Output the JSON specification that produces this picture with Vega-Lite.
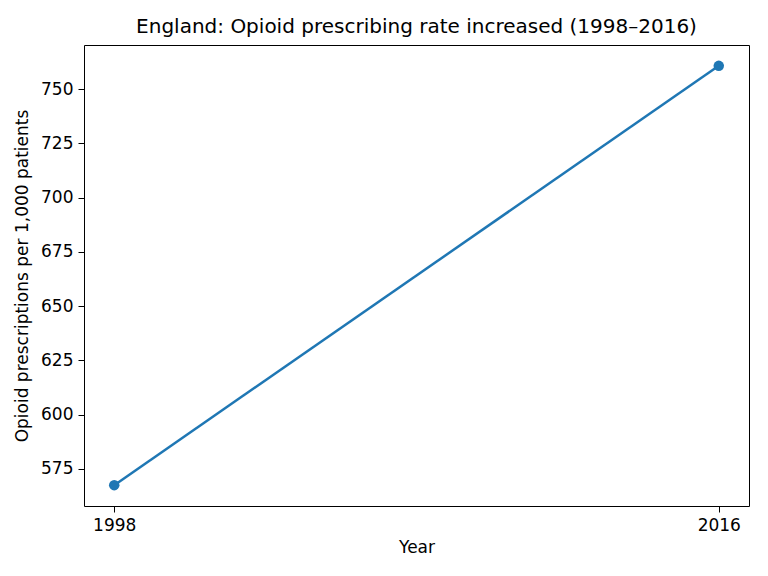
{
  "$schema": "https://vega.github.io/schema/vega-lite/v6.json",
  "width": 665,
  "height": 461,
  "autosize": {"type": "none"},
  "padding": {"left": 84, "top": 45, "right": 19, "bottom": 70},
  "background": "white",
  "config": {
    "font": "DejaVu Sans",
    "view": {"stroke": "black", "strokeWidth": 1},
    "axis": {
      "grid": false,
      "domain": false,
      "tickColor": "black",
      "tickSize": 6,
      "tickWidth": 1,
      "labelFont": "DejaVu Sans",
      "labelFontSize": 17,
      "labelColor": "black",
      "labelPadding": 5,
      "titleFont": "DejaVu Sans",
      "titleFontSize": 17,
      "titleFontWeight": "normal",
      "titleColor": "black"
    },
    "title": {"font": "DejaVu Sans", "fontSize": 20, "fontWeight": "normal", "color": "black"}
  },
  "title": {"text": "England: Opioid prescribing rate increased (1998–2016)", "anchor": "middle", "offset": 8},
  "data": {
    "values": [
      {"year": 1998, "rate": 567.5},
      {"year": 2016, "rate": 760.7}
    ]
  },
  "encoding": {
    "x": {
      "field": "year",
      "type": "quantitative",
      "title": "Year",
      "scale": {"domain": [1997.1, 2016.9], "nice": false, "zero": false},
      "axis": {"values": [1998, 2016], "format": "d", "titlePadding": 6}
    },
    "y": {
      "field": "rate",
      "type": "quantitative",
      "title": "Opioid prescriptions per 1,000 patients",
      "scale": {"domain": [557.9, 770.3], "nice": false, "zero": false},
      "axis": {"values": [575, 600, 625, 650, 675, 700, 725, 750], "titlePadding": 9}
    }
  },
  "layer": [
    {"mark": {"type": "line", "color": "#1f77b4", "strokeWidth": 2.5}},
    {"mark": {"type": "point", "filled": true, "opacity": 1, "color": "#1f77b4", "size": 110}}
  ]
}
